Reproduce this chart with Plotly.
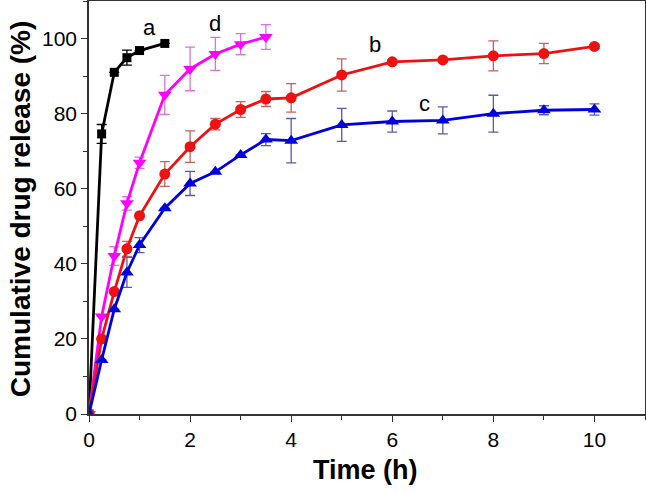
import plotly.graph_objects as go

# Data
t_a = [0, 0.25, 0.5, 0.75, 1.0, 1.5]
y_a = [0, 74.6, 91, 94.9, 96.8, 98.7]
e_a = [0, 2.5, 0, 2.0, 0, 0]

t_d = [0, 0.25, 0.5, 0.75, 1.0, 1.5, 2.0, 2.5, 3.0, 3.5]
y_d = [0, 26, 42.1, 56.1, 66.9, 85, 91.9, 95.9, 98.5, 100.4]
e_d = [0, 0, 2.5, 1.8, 1.5, 5.2, 5.8, 4.4, 2.8, 3.3]

t_b = [0, 0.25, 0.5, 0.75, 1.0, 1.5, 2.0, 2.5, 3.0, 3.5, 4, 5, 6, 7, 8, 9, 10]
y_b = [0, 20, 32.6, 44, 52.8, 63.9, 71.2, 77.2, 81.1, 83.9, 84.2, 90.3, 93.8, 94.3, 95.4, 96, 97.9]
e_b = [0, 0, 0, 2.0, 0, 3.3, 4.2, 1.5, 2.1, 2.0, 3.8, 4.3, 0.5, 0.5, 4.0, 2.7, 0.5]

t_c = [0, 0.25, 0.5, 0.75, 1.0, 1.5, 2.0, 2.5, 3.0, 3.5, 4, 5, 6, 7, 8, 9, 10]
y_c = [0, 14.4, 27.9, 37.7, 45, 54.8, 61.4, 64.5, 69, 73.1, 72.8, 77, 77.9, 78.2, 80, 80.9, 81.1]
e_c = [0, 0, 0, 4.0, 2.0, 0, 3.2, 0, 0, 1.6, 5.9, 4.4, 2.8, 3.6, 4.9, 1.2, 1.5]

labels = ["a", "b", "c", "d"]
label_x = [1.2, 5.65, 6.64, 2.49]
label_y = [103, 98.5, 82.8, 104]

x_ticks = [0, 2, 4, 6, 8, 10]
y_ticks = [0, 20, 40, 60, 80, 100]

x_title = "Time (h)"
y_title = "Cumulative drug release (%)"

series = [
    (t_a, y_a, e_a, "black", "black", "square", 9),
    (t_d, y_d, e_d, "#ff00ff", "#e070e0", "triangle-down", 12),
    (t_b, y_b, e_b, "#ee1111", "#c86060", "circle", 11),
    (t_c, y_c, e_c, "#0000dd", "#5a5aa8", "triangle-up", 12),
]

FONT = "Liberation Sans, Arial"

fig = go.Figure()
for t, y, e, col, ecol, sym, sz in series:
    fig.add_trace(go.Scatter(
        x=t, y=y, mode="lines+markers",
        line=dict(color=col, width=2.8),
        marker=dict(symbol=sym, size=sz, color=col),
        error_y=dict(type="data", array=e, visible=True, color=ecol, thickness=1.3, width=5),
        showlegend=False,
    ))

for lab, lx, ly in zip(labels, label_x, label_y):
    fig.add_annotation(x=lx, y=ly, text=lab, showarrow=False,
                       font=dict(family=FONT, size=22, color="black"))

fig.add_annotation(xref="paper", yref="paper", x=0.498, y=-0.1356,
                   text="<b>" + x_title + "</b>", showarrow=False,
                   xanchor="center", yanchor="middle",
                   font=dict(family=FONT, size=27, color="black"))
fig.add_annotation(xref="paper", yref="paper", x=-0.124, y=0.496,
                   text="<b>" + y_title + "</b>", showarrow=False, textangle=-90,
                   xanchor="center", yanchor="middle",
                   font=dict(family=FONT, size=28, color="black"))

axis_common = dict(
    showline=True, linecolor="#333333", linewidth=1.5, mirror=True,
    showgrid=False, zeroline=False, automargin=False,
    ticks="outside", ticklen=6, tickwidth=1.3, tickcolor="#333333",
    tickfont=dict(family=FONT, size=21, color="black"),
)

fig.update_layout(
    width=646, height=493,
    paper_bgcolor="white", plot_bgcolor="white",
    margin=dict(l=89, r=1, t=1, b=79),
    xaxis=dict(range=[0, 11], tickvals=x_ticks,
               minor=dict(dtick=1, ticks="outside", ticklen=4, tickcolor="#333333"),
               **axis_common),
    yaxis=dict(range=[0, 110], tickvals=y_ticks,
               minor=dict(dtick=10, ticks="outside", ticklen=4, tickcolor="#333333"),
               **axis_common),
)

fig.write_html("out.html", config={"displayModeBar": False},
               post_script="document.body.style.margin='0';")
